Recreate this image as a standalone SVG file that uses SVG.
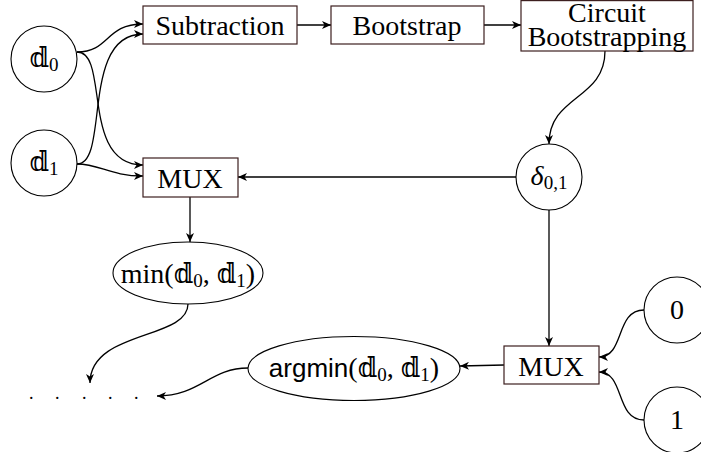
<svg xmlns="http://www.w3.org/2000/svg" width="701" height="452" viewBox="0 0 701 452">
<style>
  .box { fill: #fff; stroke: #3d1f1f; stroke-width: 1.2; }
  .nd { fill: #fff; stroke: #000; stroke-width: 1.1; }
  .t { font-family: "Liberation Serif", "DejaVu Serif", serif; font-size: 28px; fill: #000; text-anchor: middle; }
  .s { font-family: "Liberation Sans", "DejaVu Sans", sans-serif; font-size: 26px; }
  .sub { font-size: 19px; }
  .c { fill: none; stroke: #000; stroke-width: 1.3; marker-end: url(#ah); }
</style>
<defs>
  <marker id="ah" markerUnits="userSpaceOnUse" markerWidth="10" markerHeight="8" refX="9" refY="4" orient="auto">
    <path d="M0,0 L9,4 L0,8 L2.5,4 Z" fill="#000"/>
  </marker>
</defs>
<rect width="701" height="452" fill="#fff"/>

<g id="connectors">
  <path class="c" d="M77,52 C110,52 105,24 143,24"/>
  <path class="c" d="M77,164 C110,164 80,34 143,34"/>
  <path class="c" d="M77,52 C110,52 80,165 143,165"/>
  <path class="c" d="M77,164 C100,164 110,176 143,176"/>
  <path class="c" d="M297,25 L331,25"/>
  <path class="c" d="M484,25 L521,25"/>
  <path class="c" d="M605,51 C605,100 549,95 549,144"/>
  <path class="c" d="M516,177 L238,177"/>
  <path class="c" d="M190,197 L190,242"/>
  <path class="c" d="M549,210 L549,346"/>
  <path class="c" d="M504,365 L460,366"/>
  <path class="c" d="M188,304 C188,340 90,330 90,383"/>
  <path class="c" d="M248,368 C210,368 200,396 157,396"/>
  <path class="c" d="M644,310 C615,310 625,357 599,357"/>
  <path class="c" d="M644,420 C615,420 625,372 599,372"/>
</g>

<g id="d0">
  <circle class="nd" cx="44" cy="59" r="33"/>
  <text class="t" x="44" y="67">𝕕<tspan class="sub" dy="4">0</tspan></text>
</g>
<g id="d1">
  <circle class="nd" cx="44" cy="163" r="33"/>
  <text class="t" x="44" y="171">𝕕<tspan class="sub" dy="4">1</tspan></text>
</g>
<g id="subtraction">
  <rect class="box" x="143" y="6" width="154" height="38"/>
  <text class="t" x="220" y="35">Subtraction</text>
</g>
<g id="bootstrap">
  <rect class="box" x="331" y="6" width="153" height="38"/>
  <text class="t" x="407" y="35">Bootstrap</text>
</g>
<g id="circuit">
  <rect class="box" x="521" y="0.6" width="172" height="50.4"/>
  <text class="t" x="607" y="21.5" font-size="27">Circuit</text>
  <text class="t" x="607" y="46" font-size="27">Bootstrapping</text>
</g>
<g id="mux1">
  <rect class="box" x="143" y="158" width="95" height="39"/>
  <text class="t" x="190" y="188">MUX</text>
</g>
<g id="delta">
  <circle class="nd" cx="549" cy="177" r="33"/>
  <text class="t" x="549" y="185"><tspan font-style="italic">δ</tspan><tspan class="sub" dy="4">0,1</tspan></text>
</g>
<g id="min">
  <ellipse class="nd" cx="188" cy="273" rx="75" ry="31"/>
  <text class="t" x="188" y="283">min(𝕕<tspan class="sub" dy="4">0</tspan><tspan dy="-4">, 𝕕</tspan><tspan class="sub" dy="4">1</tspan><tspan dy="-4">)</tspan></text>
</g>
<g id="mux2">
  <rect class="box" x="504" y="346" width="95" height="38"/>
  <text class="t" x="551" y="376">MUX</text>
</g>
<g id="argmin">
  <ellipse class="nd" cx="354" cy="368.5" rx="106" ry="32"/>
  <text class="t" x="354" y="377"><tspan class="s">argmin</tspan>(𝕕<tspan class="sub" dy="4">0</tspan><tspan dy="-4">, 𝕕</tspan><tspan class="sub" dy="4">1</tspan><tspan dy="-4">)</tspan></text>
</g>
<g id="zero">
  <circle class="nd" cx="677" cy="310" r="33"/>
  <text class="t" x="677" y="319">0</text>
</g>
<g id="one">
  <circle class="nd" cx="677" cy="420" r="33"/>
  <text class="t" x="677" y="429">1</text>
</g>
<g id="dots">
  <text x="29 55 82 108 134" y="399" style="font-family:'Liberation Serif',serif;font-size:18px;fill:#000;">.....</text>
</g>
</svg>
